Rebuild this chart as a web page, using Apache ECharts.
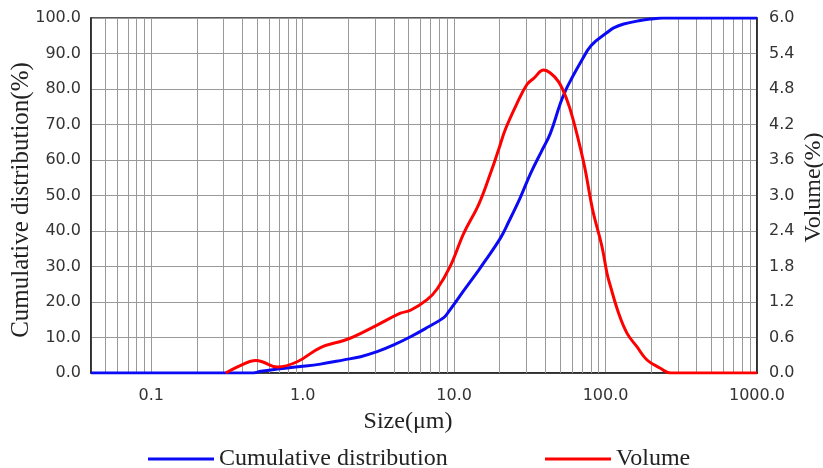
<!DOCTYPE html>
<html>
	<head>
		<meta charset="UTF-8">
		<title>Particle size distribution</title>
		<style type="text/css">
			html, body { margin: 0; padding: 0; background: #fff; }
			#main { width: 823px; height: 468px; }
		</style>
		<script src="https://cdn.jsdelivr.net/npm/echarts@6/dist/echarts.min.js"></script>
	</head>
	<body>
		<div id="main"></div>
		<script>
			// sizes in um
			var cumSizes = [0.04, 0.47, 0.53, 0.68, 0.97, 1.31, 1.87, 2.41, 3.10, 3.99, 5.15, 6.63, 8.54, 9.21, 11.57, 14.54, 15.68, 20.21, 22.93, 27.39, 31.89, 38.10, 43.20, 50.3, 54.3, 58.6, 68.18, 80.6, 102.3, 113.1, 131.7, 169.7, 197.6, 237, 1000];
			var cumValues = [0, 0, 0.5, 1.1, 1.8, 2.5, 3.7, 4.6, 6.0, 7.9, 10.2, 12.8, 15.6, 17.3, 23.2, 29.0, 31.0, 38.0, 42.6, 49.5, 56.1, 62.8, 67.5, 76.0, 79.5, 82.3, 87.4, 92.3, 95.9, 97.2, 98.3, 99.3, 99.7, 100, 100];

			var volSizes = [0.31, 0.39, 0.49, 0.54, 0.68, 0.92, 1.31, 1.87, 2.16, 3.10, 4.42, 5.15, 6.63, 7.72, 9.45, 11.57, 14.54, 17.36, 19.70, 21.81, 26.05, 30.33, 33.53, 39.03, 43.20, 49.02, 55.70, 61.57, 68.18, 73.57, 79.38, 83.46, 94.8, 102.3, 107.6, 122.0, 138.7, 161.4, 187.9, 230.0, 267.8, 1000];
			var volValues = [0, 0.13, 0.21, 0.19, 0.10, 0.19, 0.43, 0.55, 0.61, 0.81, 1.01, 1.06, 1.24, 1.42, 1.81, 2.36, 2.85, 3.37, 3.78, 4.12, 4.56, 4.88, 4.98, 5.12, 5.07, 4.92, 4.61, 4.25, 3.80, 3.42, 2.95, 2.68, 2.13, 1.68, 1.47, 1.01, 0.67, 0.44, 0.22, 0.08, 0, 0];

			var xLabels = ['0.1', '1.0', '10.0', '100.0', '1000.0'];

			function pairs(xs, ys) {
				var out = [];
				for (var i = 0; i < xs.length; i++) out.push([xs[i], ys[i]]);
				return out;
			}

			// log grid lines 2..9 of every decade
			var minorGrid = [];
			[0.01, 0.1, 1, 10, 100].forEach(function (d) {
				for (var k = 2; k <= 9; k++) {
					var v = +(d * k).toPrecision(3);
					if (v > 0.04 && v < 1000) minorGrid.push({ xAxis: v });
				}
			});

			var gridColor = '#999';
			var frameColor = '#222';
			var tickFont = { fontFamily: 'DejaVu Sans', fontSize: 16, color: '#333' };
			var nameFont = { fontFamily: 'Liberation Serif', fontSize: 24, color: '#222' };

			var chart = echarts.init(document.getElementById('main'));

			var option = {
				animation: false,
				grid: {
					left: 91, right: 66, top: 18, bottom: 95,
					outerBoundsMode: 'none',
					containLabel: false,
					show: true,
					borderColor: frameColor,
					borderWidth: 1.5
				},
				legend: [{
					left: 143, top: 442,
					data: ['Cumulative distribution'],
					icon: 'rect', itemWidth: 66, itemHeight: 3,
					textStyle: nameFont
				}, {
					left: 540, top: 442,
					data: ['Volume'],
					icon: 'rect', itemWidth: 66, itemHeight: 3,
					textStyle: nameFont
				}],
				xAxis: {
					type: 'log',
					logBase: 10,
					min: 0.04,
					max: 1000,
					name: 'Size(μm)',
					nameLocation: 'middle',
					nameGap: 37,
					nameMoveOverlap: false,
					nameTextStyle: Object.assign({ padding: [0, 32, 0, 0] }, nameFont),
					axisLine: { lineStyle: { color: frameColor, width: 1.5 } },
					axisTick: { show: false },
					axisLabel: Object.assign({
						margin: 15,
						showMinLabel: false,
						formatter: function (v) {
							var s = (+v).toFixed(1);
							return xLabels.indexOf(s) >= 0 ? s : '';
						}
					}, tickFont),
					splitLine: { show: true, lineStyle: { color: gridColor, width: 1 } }
				},
				yAxis: [{
					type: 'value',
					min: 0, max: 100, interval: 10,
					name: 'Cumulative distribution(%)',
					nameLocation: 'middle',
					nameGap: 57,
					nameMoveOverlap: false,
					nameTextStyle: Object.assign({ padding: [0, 9, 0, 0] }, nameFont, { fontSize: 25 }),
					axisLine: { show: true, lineStyle: { color: frameColor, width: 1.5 } },
					axisTick: { show: false },
					axisLabel: Object.assign({
						margin: 10,
						formatter: function (v) { return v.toFixed(1); }
					}, tickFont),
					splitLine: { show: true, lineStyle: { color: gridColor, width: 1 } }
				}, {
					type: 'value',
					position: 'right',
					min: 0, max: 6, interval: 0.6,
					name: 'Volume(%)',
					nameLocation: 'middle',
					nameGap: 45,
					nameMoveOverlap: false,
					nameTextStyle: Object.assign({ padding: [0, 0, 0, 16] }, nameFont),
					axisLine: { show: true, lineStyle: { color: frameColor, width: 1.5 } },
					axisTick: { show: false },
					axisLabel: Object.assign({
						margin: 12,
						formatter: function (v) { return v.toFixed(1); }
					}, tickFont),
					splitLine: { show: false }
				}],
				series: [{
					name: 'Cumulative distribution',
					type: 'line',
					yAxisIndex: 0,
					data: pairs(cumSizes, cumValues),
					smooth: 0.4,
					showSymbol: false,
					z: 3,
					itemStyle: { color: '#0a0af5' },
					lineStyle: { color: '#0a0af5', width: 3 },
					markLine: {
						silent: true,
						z: 1,
						symbol: 'none',
						animation: false,
						label: { show: false },
						lineStyle: { color: gridColor, width: 1, type: 'solid' },
						data: minorGrid
					}
				}, {
					name: 'Volume',
					type: 'line',
					yAxisIndex: 1,
					data: pairs(volSizes, volValues),
					smooth: 0.4,
					showSymbol: false,
					z: 4,
					itemStyle: { color: '#ff0000' },
					lineStyle: { color: '#ff0000', width: 3 }
				}]
			};

			chart.setOption(option);
		</script>
	</body>
</html>
